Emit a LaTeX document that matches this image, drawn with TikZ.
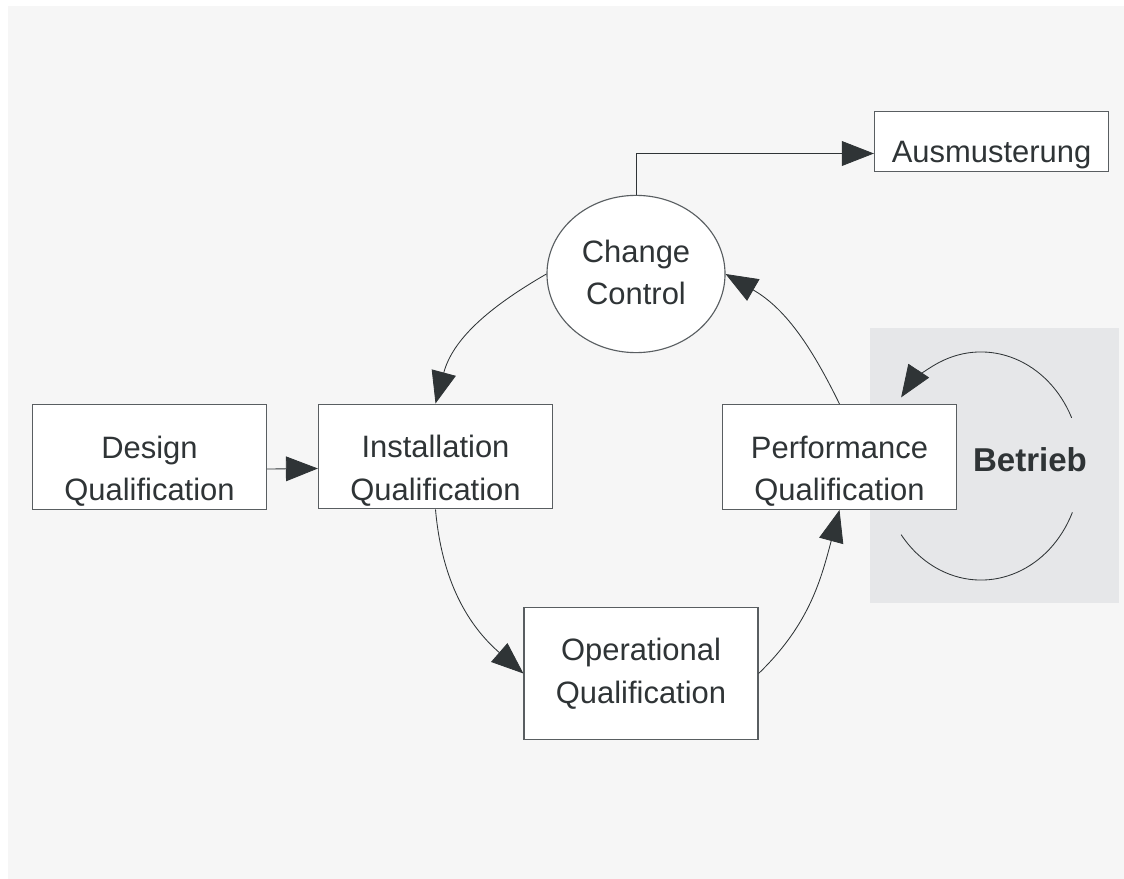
\documentclass[tikz,border=0pt]{standalone}
\usepackage{fontspec}
\setmainfont{Liberation Sans}
\usepackage{tikz}
\usetikzlibrary{shapes.geometric, arrows.meta, positioning, calc}
\definecolor{PageGray}{HTML}{F6F6F6}
\definecolor{ZoneGray}{HTML}{E6E7E9}
\definecolor{InkDark}{HTML}{2F3436}
\definecolor{EdgeGray}{HTML}{595E61}
\tikzset{
  % Box styles
  qualbox/.style={rectangle, draw=EdgeGray, fill=white, line width=0.8pt, minimum width=5.85cm, minimum height=2.62cm, inner sep=2pt, font=\fontsize{22}{30}\selectfont, align=center, text=InkDark, text height=62pt, text depth=0pt},
  changenode/.style={ellipse, draw=EdgeGray, fill=white, line width=0.8pt, minimum width=4.45cm, minimum height=3.93cm, inner sep=0pt, font=\fontsize{22}{30}\selectfont, align=center, text=InkDark, text height=44pt, text depth=0pt},
  zonelabel/.style={font=\fontsize{23.5}{28}\selectfont\bfseries, text=InkDark},
  % Arrow styles
  line/.style={line width=0.6pt, draw=InkDark},
  arrow/.style={line, -{Triangle[length=0.8cm, width=0.62cm, color=InkDark]}}
}
\begin{document}
\begin{tikzpicture}[x=0.025cm, y=0.025cm]
  \useasboundingbox (0,0) rectangle (1124,-879);
  \fill[white] (0,0) rectangle (1124,-879);
  \fill[PageGray] (8,-6) rectangle (1124,-879);
  % operating zone
  \fill[ZoneGray] (870,-328) rectangle (1119,-603);

  % Qualification stages
  \node[qualbox] (dq) at (149.5,-457) {Design\\Qualification};
  \node[qualbox] (iq) at (435.5,-456.5) {Installation\\Qualification};
  \node[qualbox, minimum height=3.3cm, text height=42pt] (oq) at (641,-673.5) {Operational\\Qualification};
  \node[qualbox] (pq) at (839.5,-457) {Performance\\Qualification};
  \node[qualbox, minimum height=1.52cm, text height=30.5pt] (aus) at (991.5,-141.5) {Ausmusterung};
  \node[changenode] (cc) at (636,-274) {Change\\Control};
  \node[zonelabel] (betrieb) at (1030,-460) {Betrieb};

  % Flow between stages
  \draw[arrow] ([yshift=-0.3cm]dq.east) -- ([yshift=-0.3cm]iq.west);
  \draw[arrow] (cc.north) |- ([yshift=-0.3cm]aus.west);
  \draw[arrow] (cc.west) to[out=210, in=75] (iq.north);
  \draw[arrow] (iq.south) to[out=-85, in=139] (oq.west);
  \draw[arrow] (oq.east) to[out=44, in=-105] (pq.south);
  \draw[arrow] (pq.north) to[out=116, in=-30] (cc.east);

  % Betrieb loop
  \coordinate (loop) at (981,-466);
  \draw[arrow] ([shift={(25:2.5cm and 2.85cm)}]loop) arc[start angle=25, end angle=143, x radius=2.5cm, y radius=2.85cm];
  \draw[line] ([shift={(-24:2.5cm and 2.85cm)}]loop) arc[start angle=-24, end angle=-143, x radius=2.5cm, y radius=2.85cm];
\end{tikzpicture}
\end{document}
